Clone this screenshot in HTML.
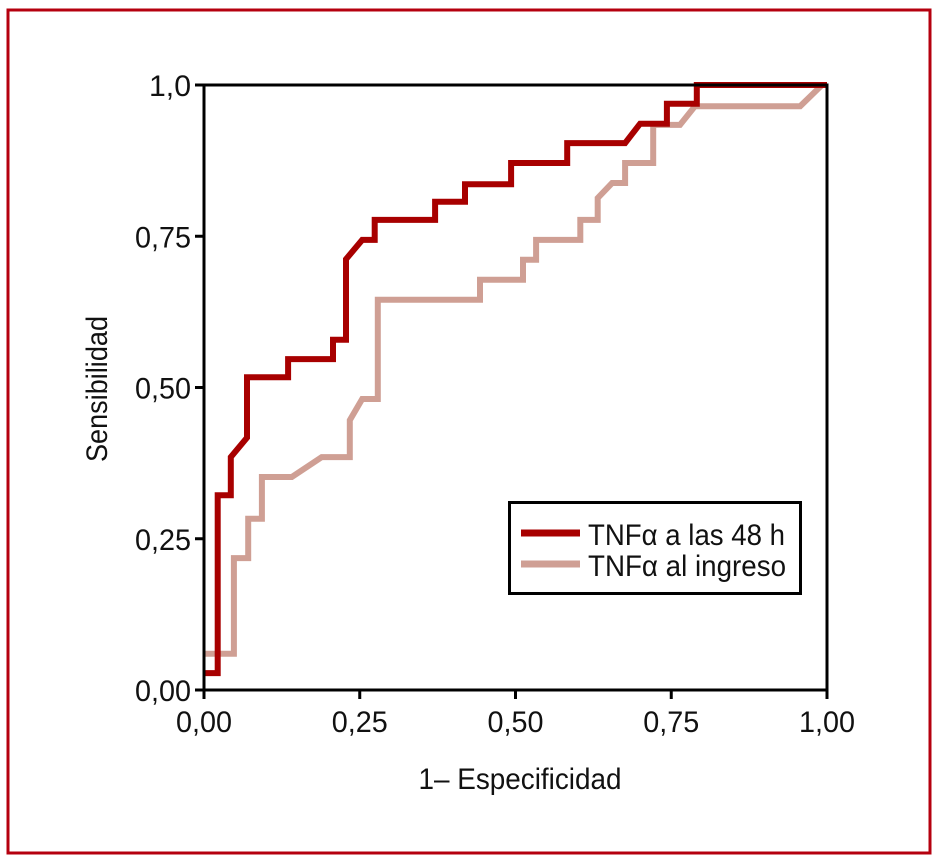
<!DOCTYPE html>
<html><head><meta charset="utf-8"><style>
html,body{margin:0;padding:0;background:#fff}
svg{display:block}
text{font-family:"Liberation Sans Narrow","Liberation Sans",sans-serif;fill:#111}
</style></head><body>
<svg id="c" width="939" height="861" viewBox="0 0 939 861" xmlns="http://www.w3.org/2000/svg">
<rect x="8" y="10" width="922" height="843" fill="none" stroke="#b5000f" stroke-width="3"/>
<g id="plot"></g>
</svg>
<script>
const xTicks=[0,0.25,0.5,0.75,1];
const xTickLabels=["0,00","0,25","0,50","0,75","1,00"];
const yTicks=[0,0.25,0.5,0.75,1];
const yTickLabels=["0,00","0,25","0,50","0,75","1,0"];
const red48X=[0,0.022,0.022,0.043,0.043,0.069,0.069,0.135,0.135,0.207,0.207,0.228,0.228,0.254,0.274,0.274,0.371,0.371,0.419,0.419,0.493,0.493,0.583,0.583,0.676,0.700,0.743,0.743,0.791,0.791,1];
const red48Y=[0.028,0.028,0.322,0.322,0.385,0.417,0.517,0.517,0.547,0.547,0.579,0.579,0.712,0.744,0.744,0.777,0.777,0.807,0.807,0.836,0.836,0.871,0.871,0.904,0.904,0.936,0.936,0.969,0.969,1,1];
const ingresoX=[0,0.048,0.048,0.071,0.071,0.093,0.093,0.141,0.189,0.234,0.234,0.254,0.279,0.279,0.443,0.443,0.512,0.512,0.533,0.533,0.604,0.604,0.632,0.632,0.655,0.676,0.676,0.721,0.721,0.764,0.788,0.957,0.992];
const ingresoY=[0.06,0.06,0.218,0.218,0.283,0.283,0.352,0.352,0.385,0.385,0.446,0.481,0.481,0.645,0.645,0.678,0.678,0.711,0.711,0.744,0.744,0.777,0.777,0.813,0.838,0.838,0.871,0.871,0.934,0.934,0.965,0.965,1];

const X0=204,X1=827,Y0=690,Y1=85;
const sx=v=>X0+v*(X1-X0);
const sy=v=>Y0-v*(Y0-Y1);
const NS="http://www.w3.org/2000/svg";
const g=document.getElementById('plot');
function mk(t,a){const e=document.createElementNS(NS,t);for(const k in a)e.setAttribute(k,a[k]);g.appendChild(e);return e;}

function series(xs,ys,color,name){
  const pts=xs.map((x,i)=>sx(x).toFixed(1)+','+sy(ys[i]).toFixed(1)).join(' ');
  const p=mk('polyline',{points:pts,fill:'none',stroke:color,'stroke-width':6,'stroke-linejoin':'miter'});
  
  
}
series(ingresoX,ingresoY,'#cf9f94','series-tnf-ingreso');
series(red48X,red48Y,'#a80000','series-tnf-48h');

const fr=mk('rect',{x:X0,y:Y1,width:X1-X0,height:Y0-Y1,fill:'none',stroke:'#000','stroke-width':3});



xTicks.forEach((v,i)=>{
  const t=mk('line',{x1:sx(v),x2:sx(v),y1:Y0,y2:Y0+9,stroke:'#000','stroke-width':3});
  
  
  const l=mk('text',{x:sx(v),y:732,'font-size':30,'text-anchor':'middle',textLength:xTickLabels[i].length*14,lengthAdjust:'spacingAndGlyphs'});
  l.textContent=xTickLabels[i];
  
  
});
yTicks.forEach((v,i)=>{
  const t=mk('line',{x1:X0-9,x2:X0,y1:sy(v),y2:sy(v),stroke:'#000','stroke-width':3});
  
  
  const l=mk('text',{x:191,y:sy(v)+11,'font-size':30,'text-anchor':'end',textLength:yTickLabels[i].length*14,lengthAdjust:'spacingAndGlyphs'});
  l.textContent=yTickLabels[i];
  
  
});

const xt=mk('text',{x:520,y:789,'font-size':30,'text-anchor':'middle',textLength:203,lengthAdjust:'spacingAndGlyphs'});
xt.textContent='1– Especificidad';


const yt=mk('text',{x:0,y:0,'font-size':30,'text-anchor':'middle',transform:'translate(107,389) rotate(-90)',textLength:146,lengthAdjust:'spacingAndGlyphs'});
yt.textContent='Sensibilidad';



const lb=mk('rect',{x:509.5,y:502.5,width:291,height:91,fill:'#fff',stroke:'#000','stroke-width':3});


const legendItems=[['TNFα a las 48 h','#a80000',533,197],['TNFα al ingreso','#cf9f94',564,198]];
legendItems.forEach(([txt,c,y,w])=>{
  const ln=mk('line',{x1:521,x2:580,y1:y,y2:y,stroke:c,'stroke-width':7});
  
  
  const t=mk('text',{x:588,y:y+12,'font-size':30,textLength:w,lengthAdjust:'spacingAndGlyphs'});
  t.textContent=txt;
  
  
});
</script>
</body></html>
